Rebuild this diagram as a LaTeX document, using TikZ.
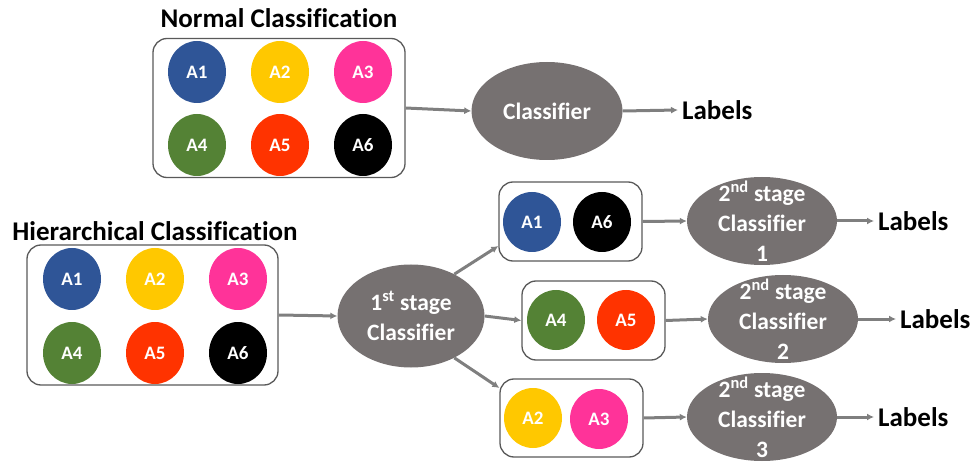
\documentclass[tikz,border=0pt]{standalone}
\usepackage{fontspec}
\setmainfont[Ligatures=CommonOff]{Carlito}
\usetikzlibrary{shapes.geometric,arrows.meta}
\definecolor{cA1}{HTML}{2F5597}
\definecolor{cA2}{HTML}{FFC800}
\definecolor{cA3}{HTML}{FF3399}
\definecolor{cA4}{HTML}{548235}
\definecolor{cA5}{HTML}{FF3300}
\definecolor{cA6}{HTML}{000000}
\definecolor{clsgray}{HTML}{767171}
\definecolor{arrgray}{HTML}{7F7F7F}
\definecolor{boxgray}{HTML}{595959}
\tikzset{
  cls/.style={ellipse, fill=#1, draw=none, minimum width=58pt, minimum height=62pt, inner sep=0pt,
    text=white, font=\fontsize{19}{22}\selectfont\bfseries},
  grp/.style={draw=boxgray, line width=1.3pt, rounded corners=14pt, fill=none},
  clf/.style={ellipse, fill=clsgray, draw=none, inner sep=0pt},
  clftext/.style={text=white, align=center, font=\fontsize{23.5}{30}\selectfont\bfseries},
  ttl/.style={font=\fontsize{27}{30}\selectfont\bfseries},
  lbl/.style={font=\fontsize{27}{30}\selectfont\bfseries, anchor=west, inner sep=0pt},
  arr/.style={draw=arrgray, line width=3pt, -{Latex[length=7pt,width=7pt]}},
}
\begin{document}
\begin{tikzpicture}[x=1pt,y=-1pt]
\useasboundingbox (0,0) rectangle (977,462);
% ---- Normal classification
\node[ttl] (t1) at (279,18) {Normal Classification};
\node[grp, minimum width=252pt, minimum height=139pt] (b1) at (279,108) {};
\node[cls=cA1] (n1) at (197,72) {A1};
\node[cls=cA2] (n2) at (280,72) {A2};
\node[cls=cA3] (n3) at (363,72) {A3};
\node[cls=cA4] (n4) at (197,145) {A4};
\node[cls=cA5] (n5) at (280,145) {A5};
\node[cls=cA6] (n6) at (363,145) {A6};
\node[clf, minimum width=151pt, minimum height=98pt] (c0) at (547,111) {};
\node[clftext] (c0t) at (c0) {Classifier};
\node[lbl] (l0) at (682,110) {Labels};
\draw[arr] (b1.east) -- (c0.west);
\draw[arr] (c0.east) -- ([xshift=-4pt]l0.west);
% ---- Hierarchical classification
\node[ttl] (t2) at (155,231) {Hierarchical Classification};
\node[grp, minimum width=251pt, minimum height=140pt] (b2) at (152.5,315) {};
\node[cls=cA1] (h1) at (72,279) {A1};
\node[cls=cA2] (h2) at (155,279) {A2};
\node[cls=cA3] (h3) at (238,279) {A3};
\node[cls=cA4] (h4) at (72,353) {A4};
\node[cls=cA5] (h5) at (155,353) {A5};
\node[cls=cA6] (h6) at (238,353) {A6};
\node[clf, minimum width=147pt, minimum height=103pt] (s1) at (411,316) {};
\node[clftext] (s1t) at (411,316) {1\textsuperscript{st} stage\\Classifier};
\draw[arr] (b2.east) -- (s1.west);
% groups
\node[grp, minimum width=143pt, minimum height=79pt] (g1) at (570.5,221.5) {};
\node[cls=cA1, minimum height=60pt] (g1a) at (532,222) {A1};
\node[cls=cA6, minimum height=60pt] (g1b) at (602,222) {A6};
\node[grp, minimum width=143pt, minimum height=79pt] (g2) at (593.5,320.5) {};
\node[cls=cA4, minimum height=60pt] (g2a) at (556,320) {A4};
\node[cls=cA5, minimum height=60pt] (g2b) at (626,320) {A5};
\node[grp, minimum width=143pt, minimum height=78pt] (g3) at (571.5,418) {};
\node[cls=cA2, minimum height=60pt] (g3a) at (533,418) {A2};
\node[cls=cA3, minimum height=60pt] (g3b) at (599,419) {A3};
\draw[arr] (s1.44) -- (g1.west |- 0,246);
\draw[arr] (s1.east) -- (g2.west);
\draw[arr] (s1.-44) -- (g3.west |- 0,388);
% second stage classifiers
\node[clf, minimum width=150pt, minimum height=88pt] (e1) at (762,221) {};
\node[clftext] (e1t) at (762,221) {2\textsuperscript{nd} stage\\Classifier\\1};
\node[clf, minimum width=150pt, minimum height=88pt] (e2) at (783,319) {};
\node[clftext] (e2t) at (783,319) {2\textsuperscript{nd} stage\\Classifier\\2};
\node[clf, minimum width=150pt, minimum height=88pt] (e3) at (762,417) {};
\node[clftext] (e3t) at (762,417) {2\textsuperscript{nd} stage\\Classifier\\3};
\node[lbl] (l1) at (878,221) {Labels};
\node[lbl] (l2) at (900,319) {Labels};
\node[lbl] (l3) at (878,417) {Labels};
\draw[arr] (g1.east) -- (e1.west);
\draw[arr] (g2.east) -- (e2.west);
\draw[arr] (g3.east) -- (e3.west);
\draw[arr] (e1.east) -- ([xshift=-4pt]l1.west);
\draw[arr] (e2.east) -- ([xshift=-4pt]l2.west);
\draw[arr] (e3.east) -- ([xshift=-4pt]l3.west);
\end{tikzpicture}
\end{document}
